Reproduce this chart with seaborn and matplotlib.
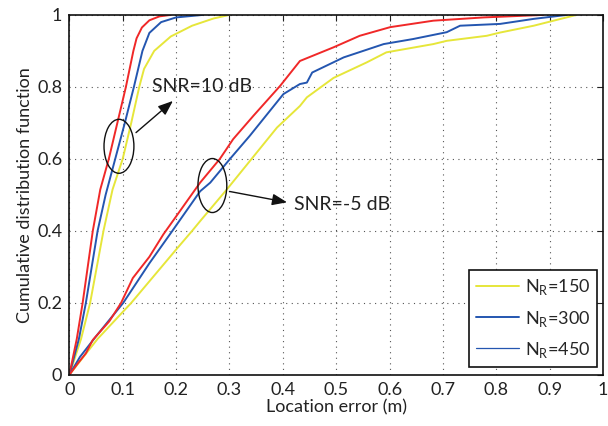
import numpy as np
import pandas as pd
import matplotlib
matplotlib.use("Agg")
import matplotlib.pyplot as plt
from matplotlib.patches import Ellipse
from matplotlib.lines import Line2D
import seaborn as sns

# ---------------- data ----------------
# SNR = 10 dB
x10_150 = [0, 0.022, 0.039, 0.064, 0.081, 0.100, 0.116, 0.131, 0.140, 0.159, 0.19, 0.23, 0.27, 0.30]
y10_150 = [0, 0.10, 0.20, 0.40, 0.515, 0.60, 0.70, 0.80, 0.85, 0.90, 0.94, 0.97, 0.99, 1.0]
x10_300 = [0, 0.018, 0.031, 0.053, 0.068, 0.086, 0.104, 0.121, 0.137, 0.150, 0.172, 0.20, 0.25]
y10_300 = [0, 0.10, 0.20, 0.40, 0.50, 0.60, 0.70, 0.80, 0.90, 0.95, 0.98, 0.993, 1.0]
x10_450 = [0, 0.014, 0.025, 0.044, 0.058, 0.074, 0.090, 0.106, 0.120, 0.126, 0.136, 0.150, 0.169, 0.19]
y10_450 = [0, 0.10, 0.20, 0.40, 0.515, 0.60, 0.70, 0.80, 0.90, 0.935, 0.965, 0.985, 0.996, 1.0]
# SNR = -5 dB
xm5_150 = [0, 0.053, 0.116, 0.2, 0.23, 0.245, 0.295, 0.389, 0.432, 0.445, 0.495, 0.557, 0.594,
           0.682, 0.707, 0.782, 0.807, 0.87, 0.95]
ym5_150 = [0, 0.10, 0.20, 0.348, 0.40, 0.427, 0.515, 0.687, 0.747, 0.771, 0.825, 0.868, 0.896,
           0.919, 0.928, 0.942, 0.951, 0.97, 1.0]
xm5_300 = [0, 0.02, 0.050, 0.101, 0.150, 0.193, 0.245, 0.264, 0.301, 0.338, 0.401, 0.432, 0.445,
           0.455, 0.514, 0.589, 0.644, 0.707, 0.732, 0.807, 0.87, 0.932]
ym5_300 = [0, 0.05, 0.107, 0.20, 0.31, 0.40, 0.51, 0.534, 0.60, 0.664, 0.78, 0.808, 0.812,
           0.84, 0.882, 0.919, 0.933, 0.952, 0.97, 0.975, 0.989, 1.0]
xm5_450 = [0, 0.015, 0.031, 0.044, 0.075, 0.097, 0.119, 0.150, 0.176, 0.20, 0.245, 0.282, 0.307,
           0.345, 0.395, 0.432, 0.495, 0.544, 0.601, 0.682, 0.776, 0.888]
ym5_450 = [0, 0.03, 0.06, 0.097, 0.149, 0.20, 0.269, 0.328, 0.39, 0.44, 0.534, 0.60, 0.655,
           0.72, 0.803, 0.872, 0.91, 0.942, 0.966, 0.984, 0.993, 1.0]

labels = ["N$_\\mathregular{R}$=150", "N$_\\mathregular{R}$=300", "N$_\\mathregular{R}$=450"]
xticks = [0, 0.1, 0.2, 0.3, 0.4, 0.5, 0.6, 0.7, 0.8, 0.9, 1]
xticklabels = ["0", "0.1", "0.2", "0.3", "0.4", "0.5", "0.6", "0.7", "0.8", "0.9", "1"]
yticks = [0, 0.2, 0.4, 0.6, 0.8, 1]
yticklabels = ["0", "0.2", "0.4", "0.6", "0.8", "1"]

# ---------------- style ----------------
sns.set_style("white")
plt.rcParams["font.family"] = ["Lato", "DejaVu Sans"]
plt.rcParams["mathtext.fontset"] = "custom"
plt.rcParams["mathtext.rm"] = "Lato"

c_yel = "#e6e63a"
c_blu = "#2456b0"
c_red = "#f02828"

fig = plt.figure(figsize=(6.08, 4.26), dpi=100)
ax = fig.add_axes([0.114, 0.120, 0.878, 0.845])

curves = [
    (x10_150, y10_150, "10", "150"), (x10_300, y10_300, "10", "300"), (x10_450, y10_450, "10", "450"),
    (xm5_150, ym5_150, "-5", "150"), (xm5_300, ym5_300, "-5", "300"), (xm5_450, ym5_450, "-5", "450"),
]
frames = []
for xs, ys, snr, nr in curves:
    frames.append(pd.DataFrame({"x": xs, "y": ys, "snr": snr, "nr": nr,
                                "key": snr + "_" + nr}))
df = pd.concat(frames, ignore_index=True)
pal = {"150": c_yel, "300": c_blu, "450": c_red}
for key, sub in df.groupby("key", sort=False):
    nr = sub["nr"].iloc[0]
    sns.lineplot(data=sub, x="x", y="y", sort=False, color=pal[nr], lw=1.4,
                 ax=ax, legend=False, estimator=None)

ax.set_xlim(0, 1)
ax.set_ylim(0, 1)
ax.set_xticks(xticks)
ax.set_xticklabels(xticklabels)
ax.set_yticks(yticks)
ax.set_yticklabels(yticklabels)
ax.tick_params(direction="in", length=4, width=0.8, top=True, right=True,
               labelsize=13, colors="#222222", pad=5)
ax.grid(True, linestyle=(0, (1, 4)), color="#555555", linewidth=0.8)
for s in ax.spines.values():
    s.set_visible(True)
    s.set_color("#111111")
    s.set_linewidth(1.2)
ax.set_xlabel("Location error (m)", fontsize=13, color="#222222", labelpad=1)
ax.set_ylabel("Cumulative distribution function", fontsize=13, color="#222222", labelpad=3)

# annotations
ax.add_patch(Ellipse((0.093, 0.635), 0.056, 0.150, fill=False, edgecolor="#111111", lw=1.0, zorder=5))
ax.add_patch(Ellipse((0.268, 0.526), 0.054, 0.150, fill=False, edgecolor="#111111", lw=1.0, zorder=5))
ax.annotate("", xy=(0.198, 0.766), xytext=(0.121, 0.668),
            arrowprops=dict(arrowstyle="-|>,head_length=0.9,head_width=0.35", color="#111111", lw=1.0))
ax.annotate("", xy=(0.413, 0.478), xytext=(0.295, 0.511),
            arrowprops=dict(arrowstyle="-|>,head_length=0.9,head_width=0.35", color="#111111", lw=1.0))
ax.text(0.155, 0.80, "SNR=10 dB", fontsize=14, color="#222222", va="center", ha="left")
ax.text(0.42, 0.472, "SNR=-5 dB", fontsize=14, color="#222222", va="center", ha="left")

handles = [Line2D([], [], color=c_yel, lw=1.4),
           Line2D([], [], color=c_blu, lw=1.4),
           Line2D([], [], color=c_blu, lw=0.9)]
leg = ax.legend(handles, labels, loc="lower right", bbox_to_anchor=(0.989, 0.022),
                fontsize=13, frameon=True, fancybox=False, handlelength=2.4,
                labelspacing=0.62, borderpad=0.4, borderaxespad=0.0,
                handletextpad=0.3, framealpha=1)
leg.get_frame().set_edgecolor("#111111")
leg.get_frame().set_linewidth(1.2)

fig.savefig("out.png", dpi=100)
